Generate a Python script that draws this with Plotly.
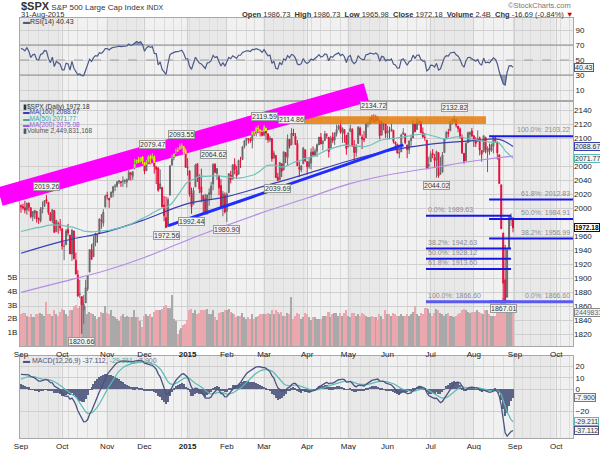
import numpy as np
import pandas as pd
import plotly.graph_objects as go

# ---------------- DATA ----------------
# closes Jun-Aug 2014 (only used to warm up the indicators)
warm_close = [1924.97, 1924.24, 1927.88, 1940.46, 1949.44, 1951.27, 1950.79, 1943.89, 1930.11, 1936.16,
              1937.78, 1941.99, 1956.98, 1959.48, 1962.87, 1962.61, 1949.98, 1959.53, 1957.22, 1960.96, 1960.23,
              1973.32, 1974.62, 1985.44, 1977.65, 1963.71, 1972.83, 1964.68, 1967.57, 1977.10, 1973.28,
              1981.57, 1958.12, 1978.22, 1973.63, 1983.53, 1987.01, 1987.98, 1978.34, 1978.91, 1969.95, 1970.07, 1930.67,
              1925.15, 1938.99, 1920.21, 1920.24, 1909.57, 1931.59, 1936.92, 1933.75, 1946.72, 1955.18,
              1955.06, 1971.74, 1981.60, 1986.51, 1992.37, 1988.40, 1997.92, 2000.02, 2000.12, 1996.74, 2003.37]

opens = [
    2004, 2003, 2001, 1998, 2008, 2001, 1988, 1993, 1996, 1986, 1982, 1999, 2003, 2013, 2009, 1993, 1983, 1997, 1967, 1978, 1978,
    1971, 1946, 1948, 1970, 1962, 1935, 1968, 1926, 1905, 1877, 1874, 1855, 1865, 1885, 1909, 1941, 1931, 1951, 1962, 1964, 1983, 1979, 2002,
    2019, 2015, 2016, 2023, 2032, 2032, 2038, 2037, 2039, 2039, 2038, 2041, 2051, 2046, 2058, 2065, 2070, 2067, 2074,
    2066, 2054, 2067, 2074, 2072, 2074, 2056, 2058, 2028, 2030, 2005, 1987, 1974, 2019, 2062, 2073, 2083, 2083, 2084, 2087, 2089, 2083,
    2059, 2054, 2022, 2006, 2031, 2064, 2046, 2031, 2019, 2014, 1992, 2020, 2020, 2035, 2063, 2050, 2047, 2033, 2002, 2019,
    1996, 2023, 2048, 2042, 2063, 2054, 2049, 2068, 2070, 2089, 2097, 2100, 2099, 2097, 2110, 2110, 2115, 2113, 2110,
    2105, 2115, 2107, 2098, 2100, 2072, 2076, 2045, 2041, 2064, 2055, 2080, 2073, 2099, 2091, 2108, 2104, 2093, 2059, 2055, 2064, 2084,
    2067, 2060, 2065, 2081, 2076, 2082, 2091, 2102, 2093, 2097, 2105, 2102, 2085, 2102, 2098, 2107, 2114, 2119, 2109, 2113, 2105,
    2088, 2110, 2113, 2091, 2080, 2093, 2115, 2102, 2100, 2101, 2122, 2121, 2130, 2127, 2125, 2130, 2125, 2105, 2122, 2121,
    2108, 2110, 2111, 2112, 2095, 2092, 2079, 2081, 2106, 2107, 2091, 2084, 2097, 2101, 2121, 2113, 2123, 2124, 2109, 2102, 2098, 2061,
    2067, 2079, 2073, 2069, 2080, 2049, 2052, 2080, 2100, 2109, 2111, 2126, 2126, 2127, 2118, 2114, 2102, 2079, 2068, 2094, 2106, 2111,
    2104, 2097, 2096, 2101, 2083, 2081, 2102, 2081, 2086, 2083, 2089, 2101, 2095, 2077, 2034, 1965, 1898, 1873, 1943, 1986, 1986.73]

highs = [
    2006, 2007, 2011, 2008, 2008, 2002, 1996, 1998, 1996, 1987, 2002, 2010, 2012, 2019.26, 2009, 1995, 1999, 1998, 1984, 1981, 1985,
    1972, 1952, 1971, 1978, 1962, 1971, 1968, 1937, 1912, 1898, 1874, 1876, 1898, 1905, 1942, 1949, 1961, 1965, 1964, 1986, 1992, 1999, 2019,
    2024, 2015, 2024, 2032, 2035, 2039, 2041, 2039, 2046, 2042, 2043, 2056, 2052, 2053, 2071, 2070, 2074, 2073, 2075,
    2066, 2069, 2076, 2077, 2079.47, 2076, 2060, 2059, 2056, 2031, 2018, 2017, 2016, 2061.5, 2077, 2079, 2086, 2087, 2093, 2093.55, 2089, 2086,
    2072, 2054, 2030, 2030, 2064, 2065, 2049, 2057, 2019, 2021, 2020, 2029, 2038, 2064.62, 2065, 2058, 2047, 2042, 2025, 2023,
    2023, 2050.5, 2054, 2063, 2072, 2061, 2070, 2074, 2089, 2097.5, 2101, 2100, 2102, 2110.5, 2111, 2117, 2119, 2113, 2112,
    2119.59, 2116, 2107, 2104, 2100, 2083, 2076, 2051, 2066, 2065, 2081.5, 2080, 2106, 2099, 2114.86, 2114, 2108, 2098, 2067, 2062, 2088, 2084,
    2068, 2072, 2086, 2089, 2086, 2093, 2102.5, 2108, 2098, 2111, 2108, 2102, 2104, 2109, 2109, 2120, 2120, 2125.92, 2116, 2113, 2105,
    2108.5, 2120, 2115, 2098, 2092, 2118, 2117, 2106, 2111, 2121.5, 2124, 2131, 2134, 2134.72, 2134, 2132, 2126, 2126, 2122, 2121,
    2118, 2117, 2121, 2112, 2096, 2093, 2085, 2107, 2115, 2107, 2091, 2098, 2106, 2126, 2121, 2129, 2126, 2126, 2116, 2108, 2098, 2074,
    2082, 2085, 2078, 2083, 2080, 2074, 2081, 2100, 2111, 2114, 2125, 2128, 2132.82, 2128, 2118, 2116, 2106, 2079, 2095, 2110, 2110, 2115,
    2105, 2102, 2112, 2103, 2083, 2105, 2102, 2089, 2093, 2093, 2102.5, 2103.22, 2096, 2077, 2034, 1965, 1948, 1943, 1989.63, 1993, 1986.73]

lows = [
    1994, 1998, 1993, 1991, 1996, 1986, 1982, 1985, 1980, 1978, 1980, 1993, 2003, 2007, 1991, 1982, 1979, 1965, 1967, 1964, 1968,
    1941, 1926, 1948, 1961, 1935, 1925, 1927, 1906, 1874, 1872, 1820.66, 1835, 1865, 1882, 1909, 1927, 1931, 1946, 1951, 1964, 1971, 1974, 2002,
    2013, 2001, 2016, 2016, 2025, 2030, 2035, 2031, 2031, 2035, 2030, 2041, 2040, 2041, 2056, 2064, 2065, 2066, 2064,
    2049, 2054, 2066, 2063, 2070, 2050, 2035, 2024, 2028, 2002, 1982, 1972.56, 1974, 2019, 2062, 2069, 2078, 2081, 2084, 2085, 2078, 2058,
    2047, 2017, 1992.44, 2006, 2031, 2038, 2022, 2009, 1993, 1991, 1994, 2004, 2012, 2026, 2050, 2041, 2019, 2001, 1989, 1993,
    1980.90, 2022, 2036, 2042, 2049, 2042, 2049, 2058, 2070, 2086, 2090, 2093, 2094, 2086, 2104, 2103, 2109, 2103, 2103,
    2104, 2098, 2094, 2095, 2067, 2072, 2044, 2039.69, 2041, 2045, 2055, 2065, 2061, 2086, 2091, 2104, 2091, 2061, 2045, 2052, 2064, 2067,
    2049, 2057, 2056, 2076, 2076, 2074, 2091, 2092, 2083, 2097, 2100, 2073, 2085, 2094, 2091, 2103, 2112, 2107, 2094, 2094, 2077,
    2088, 2110, 2088, 2067, 2074, 2093, 2104, 2085, 2095, 2101, 2116, 2120, 2124, 2122, 2122, 2126, 2099, 2105, 2112, 2101,
    2099, 2099, 2110, 2093, 2085, 2079, 2072, 2081, 2106, 2092, 2072, 2078, 2088, 2101, 2109, 2113, 2119, 2108, 2101, 2097, 2056, 2056,
    2067, 2072, 2058, 2044.02, 2044, 2049, 2052, 2080, 2099, 2102, 2111, 2120, 2123, 2116, 2109, 2100, 2078, 2064, 2068, 2094, 2095, 2102,
    2088, 2088, 2096, 2076, 2067, 2081, 2079, 2052, 2077, 2081, 2079, 2094, 2070, 2035.73, 1970.89, 1867.01, 1867.08, 1873, 1943, 1975, 1965.98]

closes = [
    2002.28, 2000.72, 1997.65, 2007.71, 2001.54, 1988.44, 1995.69, 1997.45, 1985.54, 1984.13, 1998.98, 2001.57, 2011.36, 2010.40, 1994.29, 1982.77, 1998.30, 1965.99, 1982.85, 1977.80, 1972.29,
    1946.16, 1946.17, 1967.90, 1964.82, 1935.10, 1968.89, 1928.21, 1906.13, 1874.74, 1877.70, 1862.49, 1862.76, 1886.76, 1904.01, 1941.28, 1927.11, 1950.82, 1964.58, 1961.63, 1985.05, 1982.30, 1994.65, 2018.05,
    2017.81, 2012.10, 2023.57, 2031.21, 2031.92, 2038.26, 2039.68, 2038.25, 2039.33, 2039.82, 2041.32, 2051.80, 2048.72, 2052.75, 2063.50, 2069.41, 2067.03, 2072.83, 2067.56,
    2053.44, 2066.55, 2074.33, 2071.92, 2075.37, 2060.31, 2059.82, 2026.14, 2035.33, 2002.33, 1989.63, 1972.74, 2012.89, 2061.23, 2070.65, 2078.54, 2082.17, 2081.88, 2088.77, 2090.57, 2080.35, 2058.90,
    2058.20, 2020.58, 2002.61, 2025.90, 2062.14, 2044.81, 2028.26, 2023.03, 2011.27, 1992.67, 2019.42, 2022.55, 2032.12, 2063.15, 2051.82, 2057.09, 2029.55, 2002.16, 2021.25, 1994.99,
    2020.85, 2050.03, 2041.51, 2062.52, 2055.47, 2046.74, 2068.59, 2068.53, 2088.48, 2096.99, 2100.34, 2099.68, 2097.45, 2110.30, 2109.66, 2115.48, 2113.86, 2110.74, 2104.50,
    2117.39, 2107.78, 2098.53, 2101.04, 2071.26, 2079.43, 2044.16, 2040.24, 2065.95, 2053.40, 2081.19, 2074.28, 2099.50, 2089.27, 2108.10, 2104.42, 2091.50, 2061.05, 2056.15, 2061.02, 2086.24, 2067.89,
    2059.69, 2066.96, 2080.62, 2076.33, 2081.90, 2091.18, 2102.06, 2092.43, 2095.84, 2106.63, 2104.99, 2081.18, 2100.40, 2097.29, 2107.96, 2112.93, 2117.69, 2108.92, 2114.76, 2106.85, 2085.51,
    2108.29, 2114.49, 2089.46, 2080.15, 2088.00, 2116.10, 2105.33, 2099.12, 2098.48, 2121.10, 2122.73, 2129.20, 2127.83, 2125.85, 2130.82, 2126.06, 2104.20, 2123.48, 2120.79, 2107.39,
    2111.73, 2109.60, 2114.07, 2095.84, 2092.83, 2079.28, 2080.15, 2105.20, 2108.86, 2094.11, 2084.43, 2096.29, 2100.44, 2121.24, 2109.99, 2122.85, 2124.20, 2108.58, 2102.31, 2101.49, 2057.64, 2063.11,
    2077.42, 2076.78, 2068.76, 2081.34, 2046.68, 2051.31, 2076.62, 2099.60, 2108.95, 2107.40, 2124.29, 2126.64, 2128.28, 2119.21, 2114.15, 2102.15, 2079.65, 2067.64, 2093.25, 2108.57, 2108.63, 2103.84,
    2098.04, 2093.32, 2099.84, 2083.56, 2077.57, 2104.18, 2084.07, 2086.05, 2083.39, 2091.54, 2102.44, 2096.92, 2079.61, 2035.73, 1970.89, 1893.21, 1867.61, 1940.51, 1987.66, 1988.87, 1972.18]

volume_b = [
    2.3, 2.4, 2.4, 2.2, 2.1, 2.3, 2.1, 2.1, 2.3, 2.3, 2.4, 2.3, 2.2, 3.2, 2.3, 2.3, 2.2, 2.6, 2.3, 2.2, 2.5,
    2.7, 2.6, 2.3, 2.2, 2.6, 2.6, 2.9, 3.0, 2.8, 2.9, 3.6, 3.3, 2.9, 2.3, 2.5, 2.4, 2.3, 2.2, 2.0, 2.1, 2.5, 2.4, 2.9,
    2.4, 2.3, 2.6, 2.2, 2.1, 2.0, 1.8, 2.2, 2.3, 2.1, 2.2, 2.1, 2.1, 2.1, 2.6, 2.1, 2.1, 1.8, 1.4,
    2.2, 2.3, 2.2, 2.3, 2.1, 2.5, 2.6, 2.6, 2.6, 2.7, 2.9, 3.0, 2.8, 2.8, 3.7, 2.0, 1.8, 0.9, 1.2, 1.3, 1.5, 1.6,
    1.9, 2.6, 2.7, 2.4, 2.6, 2.3, 2.4, 2.6, 2.6, 2.6, 2.7, 2.3, 2.3, 2.6, 2.1, 1.9, 2.4, 2.5, 2.5, 2.6,
    2.6, 2.7, 2.5, 2.4, 2.3, 2.1, 2.2, 2.2, 2.4, 2.1, 2.0, 2.1, 2.0, 2.3, 2.0, 2.1, 2.2, 2.3, 2.3,
    2.3, 2.3, 2.4, 2.3, 2.6, 2.3, 2.6, 2.5, 2.3, 2.5, 2.2, 2.2, 2.4, 2.3, 3.6, 2.0, 2.2, 2.4, 2.3, 2.0, 2.1, 2.4,
    2.3, 2.1, 1.9, 2.1, 2.1, 2.0, 2.0, 2.0, 2.2, 2.2, 2.2, 2.5, 2.1, 2.3, 2.4, 2.4, 2.2, 2.4, 2.2, 2.4, 2.6,
    2.2, 2.1, 2.4, 2.4, 2.2, 2.3, 2.2, 2.4, 2.3, 2.2, 2.1, 2.1, 2.2, 2.1, 2.1, 1.9, 2.3, 2.2, 2.0, 2.6,
    2.3, 2.3, 2.2, 2.4, 2.3, 2.2, 2.2, 2.3, 2.2, 2.2, 2.3, 2.2, 2.3, 2.5, 2.9, 2.3, 2.2, 2.4, 2.3, 2.8, 2.8, 2.7,
    2.4, 2.2, 2.4, 2.7, 2.6, 2.4, 2.3, 2.2, 2.3, 2.4, 2.2, 2.2, 2.1, 2.2, 2.3, 2.4, 2.6, 2.7, 2.6, 2.5, 2.4, 2.5,
    2.5, 2.5, 2.6, 2.5, 2.4, 2.3, 2.6, 2.6, 2.3, 2.2, 2.2, 2.2, 2.6, 2.8, 3.3, 3.5, 3.3, 3.0, 2.9, 2.6, 2.45]

# moving averages (trading-day index, value)
ma100_idx = [0, 21, 44, 63, 85, 105, 124, 146, 167, 187, 209, 231, 244, 251]
ma100_val = [1936, 1953, 1967, 1984, 2007, 2017, 2032, 2050, 2068, 2082, 2092, 2097, 2099, 2088.67]
ma200_idx = [0, 21, 44, 63, 85, 105, 124, 146, 167, 187, 209, 231, 251]
ma200_val = [1880, 1895, 1912, 1930, 1955, 1976, 1995, 2015, 2035, 2048, 2058, 2068, 2075.08]

holidays = ["2014-11-27", "2014-12-25", "2015-01-01", "2015-01-19", "2015-02-16",
            "2015-04-03", "2015-05-25", "2015-07-03", "2015-09-07"]

# swing labels (date, H/L)
swing_labels = [("2014-09-19", "H"), ("2014-10-15", "L"), ("2014-12-05", "H"), ("2014-12-16", "L"),
                ("2014-12-29", "H"), ("2015-01-06", "L"), ("2015-01-22", "H"), ("2015-02-02", "L"),
                ("2015-03-02", "H"), ("2015-03-11", "L"), ("2015-03-20", "H"), ("2015-05-20", "H"),
                ("2015-07-07", "L"), ("2015-07-20", "H"), ("2015-08-24", "L")]

# drawn annotations (chart tools)
fib_a = (1866.60, 2103.22)          # 0% -> 100%
fib_b = (1989.63, 1866.60)          # 0% -> 100%
fib_levels = [0.0, 0.382, 0.5, 0.618, 1.0]
trend_x, trend_p = [75.2, 195.1], [1975.5, 2091.0]
band_x, band_p = [-10.7, 176.2], [2017.0, 2166.0]
zone_x, zone_p = [115.2, 237.2], [2121.0, 2132.0]

legend_vals = dict(spx="1972.18", ma100="2088.67", ma50="2071.77", ma200="2075.08",
                   vol="2,449,831,168", rsi="40.43", macd=("-37.112", "-29.211", "-7.900"))

# ---------------- GEOMETRY ----------------
W, H = 600, 450
ML, MR, MT, MB = 20, 27, 18, 12
PW, PH = W - ML - MR, H - MT - MB


def ydom(top_px, bot_px):
    return [(H - MB - bot_px) / PH, (H - MB - top_px) / PH]


def ax(px):
    return (px - ML) / PW


def ay(py):
    return (H - MB - py) / PH


RSI_DOM = ydom(18, 100)
MAIN_DOM = ydom(102, 346)
MACD_DOM = ydom(356, 438)
X_RANGE = [-0.5, 281.6]
P_RANGE = [1803.3, 2152.4]
V_RANGE = [0, 17.8]
R_RANGE = [-3.3, 106]
M_RANGE = [-43.7, 29.5]

FONT = "Liberation Sans, Arial, sans-serif"

# ---------------- DERIVED ----------------
o = np.array(opens, float)
h = np.array(highs, float)
l = np.array(lows, float)
c = np.array(closes, float)
n = len(c)
idx = np.arange(n)
vol = np.array(volume_b)

cal = pd.bdate_range("2014-09-02", "2015-10-30")
cal = cal[~cal.isin(pd.to_datetime(holidays))]
dates = cal[:n]
per = cal.to_period("M")
month_start = [i for i in range(len(cal)) if i == 0 or per[i] != per[i - 1]]
week_start = [i for i in range(len(cal)) if i == 0 or cal[i].weekday() < cal[i - 1].weekday()]
month_start = [i for i in month_start if i <= X_RANGE[1]]
week_start = [i for i in week_start if i <= X_RANGE[1]]
tick_text = [("<b>%d</b>" % cal[i].year) if cal[i].month == 1 else cal[i].strftime("%b") for i in month_start]

full = pd.Series(list(warm_close) + list(closes))
ma50 = full.rolling(50).mean().values[-n:]
d = full.diff()
gain = d.clip(lower=0)
loss = -d.clip(upper=0)
rs = gain.ewm(alpha=1 / 14, adjust=False).mean() / loss.ewm(alpha=1 / 14, adjust=False).mean()
rsi = (100 - 100 / (1 + rs)).values[-n:]
ema12 = full.ewm(span=12, adjust=False).mean()
ema26 = full.ewm(span=26, adjust=False).mean()
macd_s = ema12 - ema26
sig_s = macd_s.ewm(span=9, adjust=False).mean()
macd = macd_s.values[-n:]
sig = sig_s.values[-n:]
hist = macd - sig

prev = np.r_[warm_close[-1], c[:-1]]
down = c < prev

RED = "#e2103c"
GRAY = "#6a6a6a"

fig = go.Figure()

# volume (base of main panel)
fig.add_trace(go.Bar(x=idx, y=vol, xaxis="x2", yaxis="y2", width=0.78,
                     marker=dict(color=np.where(down, "#eca7ae", "#a9a9a9"), line=dict(width=0)),
                     hoverinfo="skip", showlegend=False))

# MAs
fig.add_trace(go.Scatter(x=ma200_idx, y=ma200_val, xaxis="x2", yaxis="y3", mode="lines",
                         line=dict(color="#b58be6", width=1.2, shape="spline"), hoverinfo="skip", showlegend=False))
fig.add_trace(go.Scatter(x=ma100_idx, y=ma100_val, xaxis="x2", yaxis="y3", mode="lines",
                         line=dict(color="#3a3fb0", width=1.2, shape="spline"), hoverinfo="skip", showlegend=False))
fig.add_trace(go.Scatter(x=idx, y=ma50, xaxis="x2", yaxis="y3", mode="lines",
                         line=dict(color="#6cc2ba", width=1.2), hoverinfo="skip", showlegend=False))


def candles(mask, color):
    return go.Candlestick(x=idx[mask], open=o[mask], high=h[mask], low=l[mask], close=c[mask],
                          xaxis="x2", yaxis="y3", whiskerwidth=0,
                          increasing=dict(line=dict(color=color, width=1), fillcolor=color),
                          decreasing=dict(line=dict(color=color, width=1), fillcolor=color),
                          hoverinfo="skip", showlegend=False)


fig.add_trace(candles(~down, GRAY))
fig.add_trace(candles(down, RED))

# RSI reference lines
for lvl, dash, col in ((70, "solid", "#8c8c8c"), (30, "solid", "#8c8c8c"), (50, "dash", "#a0a0a0")):
    fig.add_trace(go.Scatter(x=[X_RANGE[0], X_RANGE[1]], y=[lvl, lvl], xaxis="x3", yaxis="y4", mode="lines",
                             line=dict(color=col, width=1, dash=dash), hoverinfo="skip", showlegend=False))

# RSI
fig.add_trace(go.Scatter(x=idx, y=np.full(n, 70.0), xaxis="x3", yaxis="y4", mode="lines",
                         line=dict(width=0), hoverinfo="skip", showlegend=False))
fig.add_trace(go.Scatter(x=idx, y=np.maximum(rsi, 70), xaxis="x3", yaxis="y4", mode="lines", fill="tonexty",
                         fillcolor="rgba(95,110,150,0.65)", line=dict(width=0), hoverinfo="skip", showlegend=False))
fig.add_trace(go.Scatter(x=idx, y=np.full(n, 30.0), xaxis="x3", yaxis="y4", mode="lines",
                         line=dict(width=0), hoverinfo="skip", showlegend=False))
fig.add_trace(go.Scatter(x=idx, y=np.minimum(rsi, 30), xaxis="x3", yaxis="y4", mode="lines", fill="tonexty",
                         fillcolor="rgba(95,110,150,0.65)", line=dict(width=0), hoverinfo="skip", showlegend=False))
fig.add_trace(go.Scatter(x=idx, y=rsi, xaxis="x3", yaxis="y4", mode="lines",
                         line=dict(color="#4c5a88", width=1.2), hoverinfo="skip", showlegend=False))

# MACD
fig.add_trace(go.Bar(x=idx, y=hist, xaxis="x", yaxis="y", width=0.55,
                     marker=dict(color="#5b6386", line=dict(width=0)), hoverinfo="skip", showlegend=False))
fig.add_trace(go.Scatter(x=idx, y=sig, xaxis="x", yaxis="y", mode="lines",
                         line=dict(color="#5cbcb3", width=1.2), hoverinfo="skip", showlegend=False))
fig.add_trace(go.Scatter(x=idx, y=macd, xaxis="x", yaxis="y", mode="lines",
                         line=dict(color="#4c5382", width=1.3), hoverinfo="skip", showlegend=False))

shapes = []
# alternating month shading
for k in range(len(month_start)):
    if k % 2 == 0:
        x0 = month_start[k] - 0.5
        x1 = (month_start[k + 1] - 0.5) if k + 1 < len(month_start) else X_RANGE[1]
        for xr, yr in (("x", "y domain"), ("x2", "y2 domain"), ("x3", "y4 domain")):
            shapes.append(dict(type="rect", xref=xr, yref=yr, x0=x0, x1=x1, y0=0, y1=1,
                               fillcolor="#e8e8e8", line=dict(width=0), layer="below"))

# orange resistance zone
shapes.append(dict(type="rect", xref="x2", yref="y3", x0=zone_x[0], x1=zone_x[1], y0=zone_p[0], y1=zone_p[1],
                   fillcolor="rgba(230,120,0,0.82)", line=dict(width=0), layer="above"))
# blue trendline
shapes.append(dict(type="line", xref="x2", yref="y3", x0=trend_x[0], x1=trend_x[1], y0=trend_p[0], y1=trend_p[1],
                   line=dict(color="#1f2cff", width=3), layer="above"))

# fibonacci lines
FIB_COL = "#1717e6"
fa_x = (238.8, X_RANGE[1])
fb_x = (206.6, 250.0)
fib_ann = []
for r in fib_levels:
    pa = fib_a[0] + r * (fib_a[1] - fib_a[0])
    pb = fib_b[0] + r * (fib_b[1] - fib_b[0])
    shapes.append(dict(type="line", xref="x2", yref="y3", x0=fa_x[0], x1=fa_x[1], y0=pa, y1=pa,
                       line=dict(color=FIB_COL if r > 0 else "#5a5af0", width=2 if r > 0 else 3), layer="above"))
    shapes.append(dict(type="line", xref="x2", yref="y3", x0=fb_x[0], x1=fb_x[1], y0=pb, y1=pb,
                       line=dict(color=FIB_COL if r < 1 else "#5a5af0", width=2 if r < 1 else 3), layer="above"))
    fib_ann.append(dict(xref="x2", yref="y3", x=fa_x[1] - 0.5, y=pa, xanchor="right", yanchor="bottom",
                        text="%.1f%%: %.2f" % (r * 100, pa), showarrow=False, yshift=1,
                        font=dict(size=7, color="#8c8c8c", family=FONT)))
    fib_ann.append(dict(xref="x2", yref="y3", x=fb_x[0], y=pb, xanchor="left", yanchor="bottom",
                        text="%.1f%%: %.2f" % (r * 100, pb), showarrow=False, yshift=1,
                        font=dict(size=7, color="#8c8c8c", family=FONT)))


# magenta channel band (extends beyond the plot area -> paper coordinates)
def px_of_idx(i):
    return ML + (i - X_RANGE[0]) / (X_RANGE[1] - X_RANGE[0]) * PW


def py_of_price(p):
    top = H - MB - MAIN_DOM[1] * PH
    bot = H - MB - MAIN_DOM[0] * PH
    return bot - (p - P_RANGE[0]) / (P_RANGE[1] - P_RANGE[0]) * (bot - top)


bx = [px_of_idx(v) for v in band_x]
by = [py_of_price(v) for v in band_p]
BAND_W = 19
shapes.append(dict(type="line", xref="paper", yref="paper", x0=ax(bx[0]), x1=ax(bx[1]), y0=ay(by[0]), y1=ay(by[1]),
                   line=dict(color="#ff00ff", width=BAND_W), layer="above"))

# candles seen through the band (xor look)
slope_px = (by[1] - by[0]) / (bx[1] - bx[0])
half_px = (BAND_W / 2) / np.cos(np.arctan(abs(slope_px)))
ppp = (P_RANGE[1] - P_RANGE[0]) / (py_of_price(P_RANGE[0]) - py_of_price(P_RANGE[1]))
half_p = half_px * ppp
for i in range(n):
    if i > band_x[1] - 1:
        break
    cp = np.interp(i, band_x, band_p)
    lo_b, hi_b = cp - half_p, cp + half_p
    col = "#f0e800" if down[i] else "#9ee03a"
    a, b = max(l[i], lo_b), min(h[i], hi_b)
    if a < b:
        shapes.append(dict(type="line", xref="x2", yref="y3", x0=i, x1=i, y0=a, y1=b,
                           line=dict(color=col, width=1), layer="above"))
    a, b = max(min(o[i], c[i]), lo_b), min(max(o[i], c[i]), hi_b)
    if a < b:
        shapes.append(dict(type="line", xref="x2", yref="y3", x0=i, x1=i, y0=a, y1=b,
                           line=dict(color=col, width=2), layer="above"))

ann = []
# swing labels
date_index = {dt.strftime("%Y-%m-%d"): k for k, dt in enumerate(dates)}
for ds, kind in swing_labels:
    k = date_index[ds]
    val = h[k] if kind == "H" else l[k]
    ann.append(dict(xref="x2", yref="y3", x=k, y=val, text="%.2f" % val, showarrow=False,
                    yanchor="bottom" if kind == "H" else "top", yshift=4 if kind == "H" else -3,
                    font=dict(size=7, color="#333", family=FONT), bgcolor="#f3f3f3",
                    bordercolor="#9a9a9a", borderwidth=1, borderpad=0))
ann += fib_ann


def txt(px, py, text, size=8, color="#222", xanchor="left", yanchor="middle", **kw):
    return dict(xref="paper", yref="paper", x=ax(px), y=ay(py), text=text, showarrow=False,
                xanchor=xanchor, yanchor=yanchor, font=dict(size=size, color=color, family=FONT), **kw)


# header
ann.append(txt(19, 5.5, "<span style='font-size:11px'><b>$SPX</b></span> S&P 500 Large Cap Index "
                        "<span style='font-size:7px'>INDX</span>", size=8, color="#333"))
ann.append(txt(19, 14.5, "31-Aug-2015", size=7.5, color="#333"))
ann.append(txt(573, 5.5, "©StockCharts.com", size=7.5, color="#777", xanchor="right"))
sp = "\u00a0"
hdr = (f"<b>Open</b> 1986.73{sp}{sp}<b>High</b> 1986.73{sp}{sp}<b>Low</b> 1965.98{sp}{sp}"
       f"<b>Close</b> 1972.18{sp}{sp}<b>Volume</b> 2.4B{sp}{sp}<b>Chg</b> -16.69 (-0.84%) "
       f"<span style='color:#cc0000'>▼</span>")
ann.append(txt(575, 14.5, hdr, size=7.5, color="#333", xanchor="right"))

# panel legends
LEG = 6.5
ann.append(txt(21, 22.5, "<span style='color:#4c5a88'>▬</span>RSI(14) " + legend_vals["rsi"], size=7, color="#333"))
ann.append(txt(21, 106.5, "▮$SPX (Daily) " + legend_vals["spx"], size=LEG, color="#333"))
ann.append(txt(21, 112.5, "▬MA(100) " + legend_vals["ma100"], size=LEG, color="#3a3fb0"))
ann.append(txt(21, 118.5, "▬MA(50) " + legend_vals["ma50"], size=LEG, color="#3fa8a0"))
ann.append(txt(21, 124.5, "▬MA(200) " + legend_vals["ma200"], size=LEG, color="#9a5ee0"))
ann.append(txt(21, 130.5, "▮Volume " + legend_vals["vol"], size=LEG, color="#555"))
m1, m2, m3 = legend_vals["macd"]
ann.append(txt(21, 361, f"▬ MACD(12,26,9) {m1}, <span style='color:#3fa8a0'>{m2}</span>, "
                        f"<span style='color:#777'>{m3}</span>", size=7, color="#4c5382"))


# right axis value boxes
def box(yref, val, text, border, bg="#f4f4f4", color="#333", size=7):
    return dict(xref="paper", yref=yref, x=ax(574), y=val, text=text, showarrow=False, xanchor="left",
                yanchor="middle", font=dict(size=size, color=color, family=FONT),
                bgcolor=bg, bordercolor=border, borderwidth=1, borderpad=0)


ann.append(box("y3", float(legend_vals["ma100"]), legend_vals["ma100"], "#3a3fb0", bg="#eeeefa"))
ann.append(box("y3", float(legend_vals["ma50"]), legend_vals["ma50"], "#5cbcb3"))
ann.append(box("y3", c[-1], "<b>%.2f</b>" % c[-1], "#111", bg="#ffffff", color="#000", size=6.5))
ann.append(box("y2", vol[-1], "2449831168", "#888", color="#666"))
ann.append(box("y4", float(legend_vals["rsi"]), legend_vals["rsi"], "#4c5a88"))
ann.append(box("y", float(m3), m3, "#777"))
ann.append(box("y", float(m2), m2, "#5cbcb3"))
ann.append(box("y", float(m1), m1, "#4c5382"))

tickfont = dict(size=8, color="#222", family=FONT)
GRID = "#cfcfcf"
MINOR = dict(tickvals=week_start, showgrid=True, gridcolor="#dcdcdc", gridwidth=1, ticks="")
xcommon = dict(range=X_RANGE, showline=True, mirror=True, linecolor="#a8a8a8", linewidth=1,
               tickvals=month_start, ticktext=tick_text, tickfont=tickfont, showgrid=True,
               gridcolor=GRID, gridwidth=1, zeroline=False, ticks="", minor=MINOR,
               rangeslider=dict(visible=False), fixedrange=True, automargin=False)
ycommon = dict(tickfont=tickfont, zeroline=False, ticks="", fixedrange=True, automargin=False)

fig.update_layout(
    width=W, height=H, margin=dict(l=ML, r=MR, t=MT, b=MB, autoexpand=False),
    paper_bgcolor="white", plot_bgcolor="#f1f1f1", showlegend=False,
    font=dict(family=FONT, size=8, color="#222"),
    bargap=0, barmode="overlay",
    xaxis=dict(anchor="y", **xcommon),
    xaxis2=dict(anchor="y2", matches="x", **xcommon),
    xaxis3=dict(anchor="y4", matches="x", **{**xcommon, "showticklabels": False}),
    yaxis=dict(domain=MACD_DOM, range=M_RANGE, side="right", tickvals=[20, 10, 0, -20],
               showgrid=True, gridcolor=GRID, showline=True, mirror=True, linecolor="#a8a8a8", **ycommon),
    yaxis2=dict(domain=MAIN_DOM, range=V_RANGE, side="left", tickvals=[1, 2, 3, 4, 5],
                ticktext=["1B", "2B", "3B", "4B", "5B"], showgrid=False,
                showline=True, mirror=True, linecolor="#a8a8a8", **ycommon),
    yaxis3=dict(overlaying="y2", anchor="x2", range=P_RANGE, side="right",
                tickvals=[v for v in range(1820, 2141, 20) if v not in (2080, 1980)],
                showgrid=True, gridcolor=GRID, showline=False, **ycommon),
    yaxis4=dict(domain=RSI_DOM, range=R_RANGE, side="right", tickvals=[10, 30, 50, 70, 90],
                showgrid=True, gridcolor=GRID, showline=True, mirror=True, linecolor="#a8a8a8", **ycommon),
    shapes=shapes, annotations=ann,
)

fig.write_html("out.html")
